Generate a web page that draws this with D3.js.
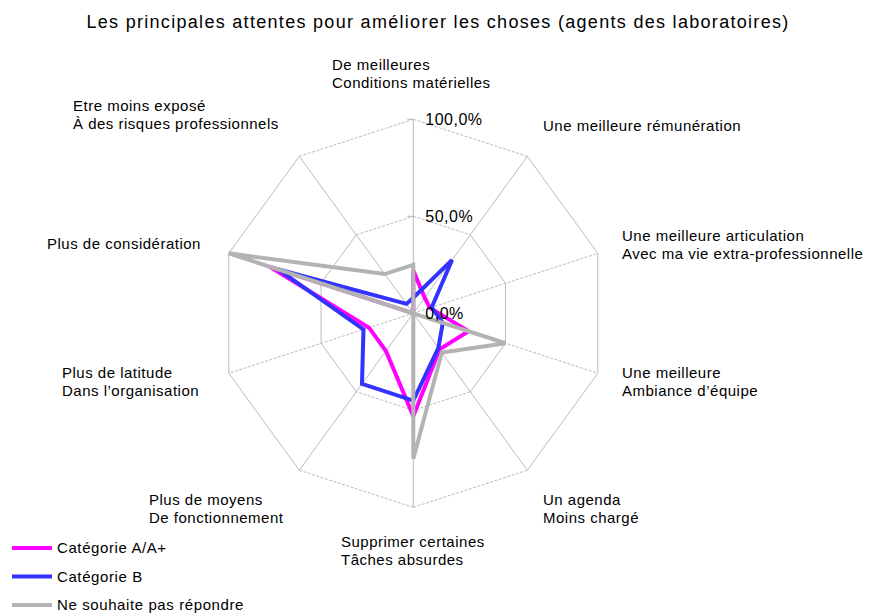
<!DOCTYPE html>
<html>
<head>
<meta charset="utf-8">
<script src="https://d3js.org/d3.v7.min.js"></script>
<style>
  body { margin:0; background:#fff; }
  text { font-family: "Liberation Sans", Arial, sans-serif; fill:#000; }
</style>
</head>
<body>
<div id="plot"></div>
<script>
//chart data
var axes = [
  ["De meilleures", "Conditions matérielles"],
  ["Une meilleure rémunération"],
  ["Une meilleure articulation", "Avec ma vie extra-professionnelle"],
  ["Une meilleure", "Ambiance d’équipe"],
  ["Un agenda", "Moins chargé"],
  ["Supprimer certaines", "Tâches absurdes"],
  ["Plus de moyens", "De fonctionnement"],
  ["Plus de latitude", "Dans l’organisation"],
  ["Plus de considération"],
  ["Etre moins exposé", "À des risques professionnels"]
];
var seriesNames = ["Catégorie A/A+", "Catégorie B", "Ne souhaite pas répondre"];
var seriesColors = ["#ff00ff", "#3333ff", "#b3b3b3"];
var catA = [0.22, 0.10, 0.09, 0.30, 0.23, 0.53, 0.24, 0.24, 0.78, 0.00];
var catB = [0.08, 0.34, 0.10, 0.16, 0.22, 0.45, 0.45, 0.27, 0.73, 0.06];
var noAnswer = [0.25, 0.00, 0.00, 0.50, 0.25, 0.75, 0.00, 0.00, 1.00, 0.25];
var ticks = [0, 0.5, 1];

var series = [catA, catB, noAnswer];

var width = 870, height = 614;
var cx = 413.3, cy = 313.3, R = 194;

var svg = d3.select('#plot')
  .append('svg')
  .attr('width', width)
  .attr('height', height);

var r = d3.scaleLinear().domain([0, 1]).range([0, R]);
var angle = d3.scaleLinear().domain([0, axes.length]).range([0, 2 * Math.PI]);
var pct = d3.formatLocale({decimal: ",", thousands: " ", grouping: [3], currency: ["", "€"]}).format(".1%");

function pt(i, v) {
  var a = angle(i);
  return [cx + r(v) * Math.sin(a), cy - r(v) * Math.cos(a)];
}

// grid lines, near-horizontal ones look dotted in the original
function gridLine(p, q) {
  var dashed = Math.abs(q[0] - p[0]) > Math.abs(q[1] - p[1]);
  svg.append('line')
    .attr('x1', p[0]).attr('y1', p[1])
    .attr('x2', q[0]).attr('y2', q[1])
    .attr('stroke', '#b3b3b3')
    .attr('stroke-width', 0.9)
    .attr('stroke-dasharray', dashed ? '3,1.5' : null);
}

ticks.filter(function(t){ return t > 0; }).forEach(function(t) {
  for (var i = 0; i < axes.length; i++) {
    gridLine(pt(i, t), pt((i + 1) % axes.length, t));
  }
});
for (var i = 0; i < axes.length; i++) {
  gridLine(pt(i, 0), pt(i, 1));
}

// tick marks on the vertical axis
ticks.forEach(function(t) {
  var p = pt(0, t);
  if (t > 0) {
    svg.append('line')
      .attr('x1', p[0] - 6).attr('x2', p[0])
      .attr('y1', p[1]).attr('y2', p[1])
      .attr('stroke', '#b3b3b3').attr('stroke-width', 1);
  }
});

// series
var line = d3.lineRadial()
  .angle(function(d, i){ return angle(i); })
  .radius(function(d){ return r(d); })
  .curve(d3.curveLinearClosed);

series.forEach(function(s, k) {
  svg.append('path')
    .attr('transform', 'translate(' + cx + ',' + cy + ')')
    .attr('d', line(s))
    .attr('fill', 'none')
    .attr('stroke', seriesColors[k])
    .attr('stroke-width', 4)
    .attr('stroke-linejoin', 'miter');
});

// tick labels drawn above the lines
ticks.forEach(function(t) {
  var p = pt(0, t);
  svg.append('text')
    .attr('x', p[0] + 12)
    .attr('y', p[1] + 6)
    .style('font-size', '16px')
    .style('letter-spacing', '0.5px')
    .text(pct(t));
});

// axis labels: left edge of the text block, baseline of the first line
var labelPos = [
  [332, 70], [543, 131], [622, 241], [622, 378], [543, 505],
  [341, 547], [149, 505], [62, 378], [47, 249], [73, 111]
];
axes.forEach(function(lines, i) {
  var t = svg.append('text')
    .attr('x', labelPos[i][0])
    .attr('y', labelPos[i][1])
    .style('font-size', '15px')
    .style('letter-spacing', '0.5px');
  lines.forEach(function(l, j) {
    t.append('tspan')
      .attr('x', labelPos[i][0])
      .attr('dy', j == 0 ? 0 : 18)
      .text(l);
  });
});

// title
svg.append('text')
  .attr('x', 438)
  .attr('y', 28)
  .attr('text-anchor', 'middle')
  .style('font-size', '18px')
  .style('letter-spacing', '1.3px')
  .text("Les principales attentes pour améliorer les choses (agents des laboratoires)");

// legend
seriesNames.forEach(function(name, k) {
  var y = 548 + k * 28.5;
  svg.append('line')
    .attr('x1', 12).attr('x2', 52)
    .attr('y1', y).attr('y2', y)
    .attr('stroke', seriesColors[k])
    .attr('stroke-width', 4);
  svg.append('text')
    .attr('x', 57)
    .attr('y', y + 5)
    .style('font-size', '15px')
    .style('letter-spacing', '0.6px')
    .text(name);
});
</script>
</body>
</html>
